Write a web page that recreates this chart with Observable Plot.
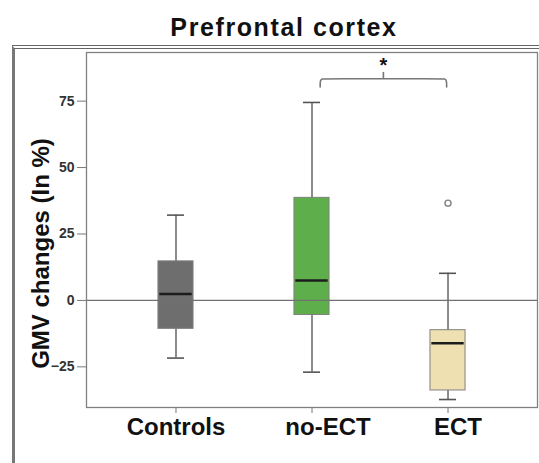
<!DOCTYPE html>
<html>
<head>
<meta charset="utf-8">
<script src="https://cdn.jsdelivr.net/npm/d3@7"></script>
<script src="https://cdn.jsdelivr.net/npm/@observablehq/plot@0.6"></script>
<style>
  body { margin: 0; background: #fff; }
  #wrap { position: relative; width: 539px; height: 463px; overflow: hidden; background: #fff;
          font-family: "Liberation Sans", Arial, sans-serif; }
  #title { position: absolute; left: 0; width: 568px; top: 15px; text-align: center;
           font-size: 25px; font-weight: bold; letter-spacing: 1.6px; line-height: 25px; color: #111; }
  #panel { position: absolute; left: 12px; top: 45px; width: 560px; height: 440px;
           border-top: 4px double #666; border-left: 3px solid #777; }
  #chart { position: absolute; left: 0; top: 0; }
  #chart svg g[aria-label^="y-axis"] text { fill: #333; font-size: 14px; font-weight: bold; }
  #chart svg g[aria-label="x-label"] text { letter-spacing: 1px; }
  #chart svg g[aria-label="y-title"] text { letter-spacing: 0.5px; }
</style>
</head>
<body>
<div id="wrap">
  <div id="panel"></div>
  <div id="title">Prefrontal cortex</div>
  <div id="chart"></div>
</div>
<script>
// Groups and box-plot summaries of GMV change (%)
const groups = ["Controls", "no-ECT", "ECT"];
const whiskerLow = [-21.7, -27.0, -37.3];
const q1 = [-10.7, -5.5, -33.9];
const median = [2.4, 7.5, -16.1];
const q3 = [14.7, 38.6, -11.2];
const whiskerHigh = [32.1, 74.5, 10.2];
const outliers = [{group: "ECT", value: 36.6}];
const fills = ["#6e6e6e", "#5eaf4b", "#eee0b0"];
const yTicks = [-25, 0, 25, 50, 75];

// Significance bracket between no-ECT and ECT
const bracket = {from: 1.06, to: 1.99, y: 83.4, drop: 3.1, peak: 2.4, label: "*", labelY: 89.3};

const rows = groups.map((g, i) => ({
  i, group: g, lo: whiskerLow[i], q1: q1[i], med: median[i], q3: q3[i], hi: whiskerHigh[i], fill: fills[i]
}));

const boxHalf = 0.129;
const capHalf = 0.0625;
const labelNudge = [0, 16, 10];

const mid = (bracket.from + bracket.to) / 2;
const c = 0.04;
const bracePath = [
  {x: bracket.from, y: bracket.y - bracket.drop},
  {x: bracket.from, y: bracket.y - 0.6},
  {x: bracket.from + c * 0.3, y: bracket.y},
  {x: bracket.from + c, y: bracket.y},
  {x: bracket.to - c, y: bracket.y},
  {x: bracket.to - c * 0.3, y: bracket.y},
  {x: bracket.to, y: bracket.y - 0.6},
  {x: bracket.to, y: bracket.y - bracket.drop}
];

const chart = Plot.plot({
  width: 539,
  height: 463,
  marginTop: 52,
  marginBottom: 56,
  marginLeft: 86,
  marginRight: 2,
  style: {fontFamily: "Liberation Sans, Arial, sans-serif", fontSize: "14px", fontWeight: "bold",
          color: "#777", background: "transparent", overflow: "visible"},
  x: {domain: [-0.658, 2.658], ticks: [0, 1, 2], tickFormat: () => "", tickSize: 6, label: null},
  y: {domain: [-40.3, 93.3], ticks: yTicks, tickSize: 9, tickPadding: 3, label: null},
  marks: [
    // whiskers
    Plot.ruleX(rows, {x: "i", y1: "lo", y2: "hi", stroke: "#666", strokeWidth: 1.5}),
    Plot.ruleY(rows, {y: "hi", x1: d => d.i - capHalf, x2: d => d.i + capHalf, stroke: "#555", strokeWidth: 1.6}),
    Plot.ruleY(rows, {y: "lo", x1: d => d.i - capHalf, x2: d => d.i + capHalf, stroke: "#555", strokeWidth: 1.6}),
    // boxes
    Plot.rect(rows, {x1: d => d.i - boxHalf, x2: d => d.i + boxHalf, y1: "q1", y2: "q3",
                     fill: d => d.fill, stroke: "#808080", strokeWidth: 1}),
    // zero reference line
    Plot.ruleY([0], {stroke: "#707070", strokeWidth: 1.2}),
    // medians
    Plot.ruleY(rows, {y: "med", x1: d => d.i - boxHalf + 0.01, x2: d => d.i + boxHalf - 0.01,
                      stroke: "#1c1c1c", strokeWidth: 2.6}),
    // outlier
    Plot.dot(outliers, {x: d => groups.indexOf(d.group), y: "value", r: 3, stroke: "#808080",
                        strokeWidth: 1.4, fill: "#fff"}),
    // bracket and significance marker
    Plot.line(bracePath, {x: "x", y: "y", curve: "basis", stroke: "#777", strokeWidth: 1.6}),
    Plot.ruleX([mid], {y1: bracket.y, y2: bracket.y + bracket.peak, stroke: "#777", strokeWidth: 1.6}),
    Plot.text([bracket.label], {x: () => mid, y: () => bracket.labelY, text: d => d, fontSize: 20,
                                fontWeight: "bold", fill: "#111", lineAnchor: "middle", dy: 2}),
    // plot frame
    Plot.frame({stroke: "#808080", strokeWidth: 1.3}),
    // group labels
    ...groups.map((g, i) => Plot.text([g], {
      x: () => i, frameAnchor: "bottom", text: d => d, lineAnchor: "top", dy: 10.5, dx: labelNudge[i],
      fontSize: 24, fontWeight: "bold", fill: "#111", ariaLabel: "x-label"
    })),
    // y-axis title
    Plot.text(["GMV changes (In %)"], {
      frameAnchor: "left", text: d => d, rotate: -90, dx: -45.5, dy: 23.5,
      textAnchor: "middle", lineAnchor: "middle",
      fontSize: 24, fontWeight: "bold", fill: "#111", ariaLabel: "y-title"
    })
  ]
});

document.getElementById("chart").appendChild(chart);
</script>
</body>
</html>
